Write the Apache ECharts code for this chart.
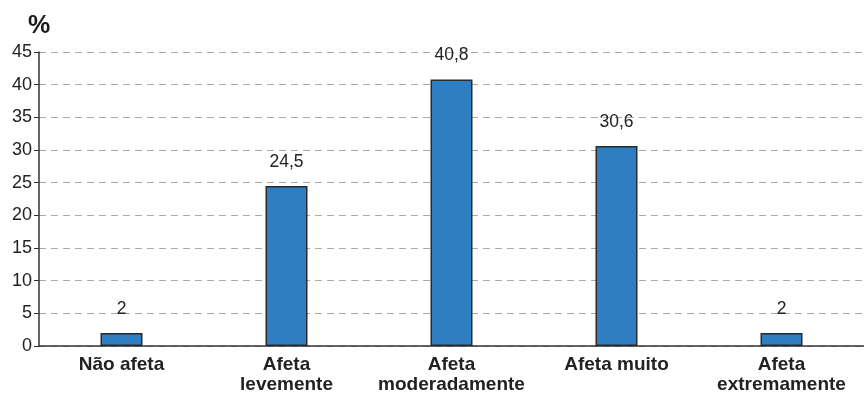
<!DOCTYPE html>
<html>
<head>
<meta charset="utf-8">
<script src="https://cdn.jsdelivr.net/npm/echarts@6/dist/echarts.min.js"></script>
<style>
  html, body { margin: 0; padding: 0; background: #fff; }
  #chart { width: 864px; height: 395px; }
</style>
</head>
<body>
<div id="chart"></div>
<script>
const categories = ['Não afeta', 'Afeta\nlevemente', 'Afeta\nmoderadamente', 'Afeta muito', 'Afeta\nextremamente']
const values = [2, 24.5, 40.8, 30.6, 2]

const chart = echarts.init(document.getElementById('chart'), null, { renderer: 'canvas' })

const option = {
  backgroundColor: '#fff',
  animation: false,
  textStyle: { fontFamily: 'Liberation Sans, Arial, sans-serif' },
  title: {
    text: '%',
    left: 23,
    top: 9,
    textStyle: { fontSize: 25, fontWeight: 'bold', color: '#1a1a1a' }
  },
  grid: { left: 39, right: 0, top: 52, bottom: 47 },
  xAxis: {
    type: 'category',
    data: categories,
    axisLine: { lineStyle: { color: '#333', width: 1.5 } },
    axisTick: { show: false },
    axisLabel: {
      color: '#222',
      fontSize: 19,
      fontWeight: 'bold',
      lineHeight: 20,
      margin: 9,
      interval: 0
    }
  },
  yAxis: {
    type: 'value',
    min: 0,
    max: 45,
    interval: 5,
    axisLine: { show: true, lineStyle: { color: '#333', width: 1.5 } },
    axisTick: { show: true, length: 5, lineStyle: { color: '#333' } },
    axisLabel: { color: '#222', fontSize: 18, margin: 7 },
    splitLine: { lineStyle: { color: '#aaa', type: [7, 5], width: 1 } }
  },
  series: [{
    type: 'bar',
    data: values,
    barWidth: 42,
    itemStyle: { color: '#2f7ec2', borderColor: '#2a2a2a', borderWidth: 1.5 },
    label: {
      show: true,
      position: 'top',
      distance: 15,
      color: '#222',
      fontSize: 17.5,
      formatter: p => String(p.value).replace('.', ',')
    }
  }]
}

chart.setOption(option)
</script>
</body>
</html>
